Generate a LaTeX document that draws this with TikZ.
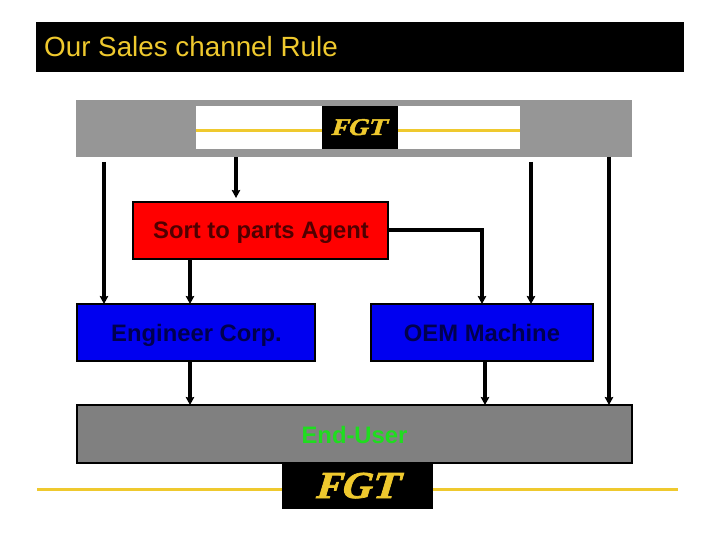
\documentclass[tikz,border=0pt]{standalone}
\usepackage{fontspec}
\setmainfont{Liberation Sans}
\newfontfamily\logofont[BoldFeatures={FakeBold=2}]{Liberation Serif}
\definecolor{gold}{HTML}{EFC92E}
\definecolor{topgrey}{HTML}{969696}
\definecolor{midgrey}{HTML}{808080}
\definecolor{boxblue}{HTML}{0000F0}
\definecolor{endgreen}{HTML}{1FDD1F}
\definecolor{navytext}{HTML}{00004E}
\definecolor{marontext}{HTML}{500000}
\usetikzlibrary{arrows.meta}
\tikzset{
  px/.style={x=1pt,y=-1pt},
  flatbox/.style={rectangle,draw=none,inner sep=0pt,outer sep=0pt,anchor=north west},
  flowbox/.style={rectangle,draw=black,line width=2pt,inner sep=0pt,outer sep=0pt,anchor=north west},
  boxtext/.style={font=\fontsize{23.8}{28}\selectfont\bfseries,text=navytext,anchor=base,inner sep=0pt},
  flow/.style={draw=black,line width=3.2pt,-{Stealth[length=8pt,width=8.5pt,inset=1pt]}},
  goldline/.style={draw=gold,line width=3pt},
  logotext/.style={text=gold,inner sep=0pt,anchor=base,xslant=0.3},
}
\begin{document}
\begin{tikzpicture}[px]
\useasboundingbox (0,0) rectangle (720,540);
\node[flatbox,fill=black,minimum width=648pt,minimum height=50pt] (title) at (36,22) {};
\node[anchor=base west,inner sep=0pt,text=gold,font=\fontsize{27.8}{32}\selectfont] (titletext) at (44,56.5) {Our Sales channel Rule};
% top band
\node[flatbox,fill=topgrey,minimum width=556pt,minimum height=57pt] (top) at (76,100) {};
\node[flatbox,fill=white,minimum width=324pt,minimum height=43pt] (topwhite) at (196,106) {};
\node[flatbox,fill=black,minimum width=76pt,minimum height=43pt] (toplogo) at (322,106) {};
\node[logotext,xscale=1.1,font=\logofont\fontsize{24}{28}\selectfont\bfseries] (toplogotext) at (358,135) {FGT};
\coordinate (tl) at (196,130.5);
\draw[goldline] (tl) -- (toplogo.west |- tl);
\draw[goldline] (toplogo.east |- tl) -- (topwhite.east |- tl);
% boxes
\node[flowbox,fill=red,minimum width=255pt,minimum height=57pt] (agent) at (133,202) {};
\node[boxtext,text=marontext] (agenttext) at (261,239) {Sort to parts Agent};
\node[flowbox,fill=boxblue,minimum width=238pt,minimum height=57pt] (eng) at (77,304) {};
\node[boxtext] (engtext) at (196.5,341) {Engineer Corp.};
\node[flowbox,fill=boxblue,minimum width=222pt,minimum height=57pt] (oem) at (371,304) {};
\node[boxtext] (oemtext) at (482,341) {OEM Machine};
\node[flowbox,fill=midgrey,minimum width=555pt,minimum height=58pt] (user) at (77,405) {};
\node[boxtext,text=endgreen] (usertext) at (354.5,443) {End-User};
% bottom logo
\node[flatbox,fill=black,minimum width=151pt,minimum height=46pt] (botlogo) at (282,463) {};
\node[logotext,xscale=1.05,font=\logofont\fontsize{38}{42}\selectfont\bfseries] (botlogotext) at (356,498) {FGT};
\coordinate (bl) at (37,489);
\coordinate (br) at (678,489);
\draw[goldline] (bl) -- (botlogo.west |- bl);
\draw[goldline] (botlogo.east |- br) -- (br);
% connectors
\coordinate (s1) at (104,162);
\coordinate (s2) at (236,157);
\coordinate (s3) at (531,162);
\coordinate (s4) at (609,157);
\draw[flow] (s1) -- (s1 |- eng.north);
\draw[flow] (s2) -- ([yshift=4pt]s2 |- agent.north);
\draw[flow] (s3) -- (s3 |- oem.north);
\draw[flow] (s4) -- (s4 |- user.north);
\coordinate (a1) at (190,259);
\draw[flow] (a1 |- agent.south) -- (a1 |- eng.north);
\coordinate (o1) at (482,230);
\draw[flow] (agent.east |- o1) -- (o1) -- (o1 |- oem.north);
\coordinate (e1) at (190,361);
\coordinate (e2) at (485,361);
\draw[flow] (e1 |- eng.south) -- (e1 |- user.north);
\draw[flow] (e2 |- oem.south) -- (e2 |- user.north);
\end{tikzpicture}
\end{document}
